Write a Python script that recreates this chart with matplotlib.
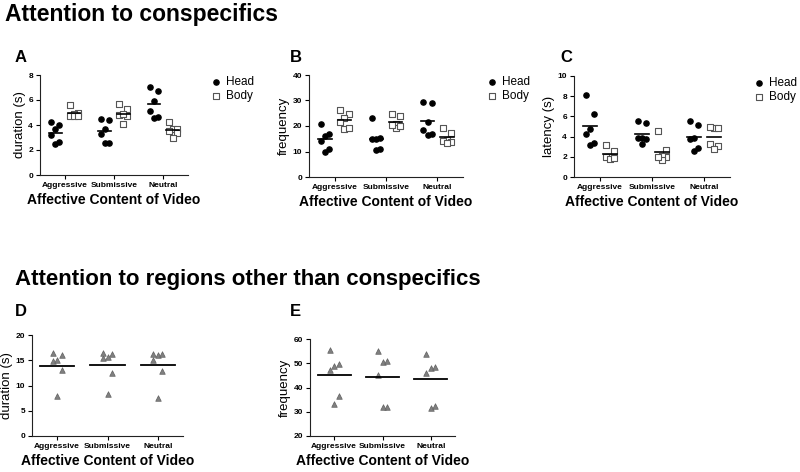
import matplotlib
matplotlib.use("Agg")
import matplotlib.pyplot as plt
import numpy as np

plt.rcParams['font.family'] = ['Liberation Sans', 'DejaVu Sans']

categories = ["Aggressive", "Submissive", "Neutral"]

# Panel A: duration (s)
A_head = [[4.03, 3.71, 4.24, 3.23, 2.52, 2.65],
          [4.37, 4.45, 3.71, 3.31, 2.57, 2.57],
          [7.07, 6.70, 5.90, 5.09, 4.56, 4.64]]
A_body = [[5.62, 4.95, 4.85, 4.75, 4.70, 4.72],
          [5.30, 5.70, 4.69, 4.80, 4.05, 4.85],
          [4.24, 3.65, 3.65, 3.40, 3.00, 3.55]]
# Panel B: frequency
B_head = [[20.6, 16.1, 16.8, 14.2, 9.8, 10.9],
          [23.0, 14.8, 14.8, 15.1, 10.5, 10.8],
          [29.1, 29.5, 21.4, 18.4, 16.7, 16.5]]
B_body = [[26.2, 24.7, 23.0, 21.4, 18.8, 19.4],
          [24.9, 23.9, 20.7, 19.4, 19.9, 20.5],
          [19.4, 17.4, 14.7, 13.8, 14.2, 13.5]]
# Panel C: latency (s)
C_head = [[8.15, 6.27, 4.79, 4.29, 3.14, 3.40],
          [5.35, 5.54, 3.90, 3.75, 3.85, 3.30],
          [5.12, 5.54, 3.90, 3.73, 2.54, 2.87]]
C_body = [[3.20, 2.54, 1.98, 1.98, 1.80, 1.90],
          [4.52, 2.64, 1.98, 2.05, 1.65, 2.00],
          [4.88, 5.00, 4.90, 3.30, 3.04, 2.80]]
# Panel D: duration (s), other regions
D_vals = [[16.4, 16.0, 14.85, 15.0, 13.1, 8.0],
          [16.2, 15.4, 15.7, 16.4, 12.5, 8.4],
          [16.2, 15.0, 16.0, 16.2, 12.8, 7.6]]
# Panel E: frequency, other regions
E_vals = [[55.4, 49.6, 48.8, 47.1, 36.4, 33.1],
          [55.0, 50.6, 51.0, 45.2, 32.1, 32.1],
          [53.7, 47.9, 48.6, 46.1, 31.4, 32.4]]

W, H = 800, 472
fig = plt.figure(figsize=(8, 4.72), dpi=100)

def add_axes(left, top, right, bottom):
    return fig.add_axes([left / W, 1 - bottom / H, (right - left) / W, (bottom - top) / H])

def jitter(vals, spread):
    # simple column-scatter layout: spread points that are close in value
    n = len(vals)
    order = np.argsort(vals)[::-1]
    offs = np.zeros(n)
    pattern = [-1, 1, 0, -1, 1, 0]
    for k, i in enumerate(order):
        offs[i] = pattern[k % len(pattern)] * spread
    return offs

def style_axes(ax, ylim, yticks, ylabel):
    ax.set_ylim(*ylim)
    ax.set_yticks(yticks)
    ax.set_xlim(-0.5, 2.5)
    ax.set_xticks(range(3))
    ax.set_xticklabels(categories)
    for s in ["top", "right"]:
        ax.spines[s].set_visible(False)
    for s in ["left", "bottom"]:
        ax.spines[s].set_linewidth(0.8)
        ax.spines[s].set_color("#222222")
    ax.tick_params(axis="both", labelsize=6, length=3, width=0.8, pad=2)
    for lab in ax.get_xticklabels() + ax.get_yticklabels():
        lab.set_fontweight("bold")
    ax.set_ylabel(ylabel, fontsize=9.5, labelpad=2)
    ax.set_xlabel("Affective Content of Video", fontsize=10, fontweight="bold", labelpad=3)

def two_group(ax, head, body, off=0.19, spread=0.08, mw=0.13):
    for i in range(3):
        h = np.array(head[i]); b = np.array(body[i])
        ax.scatter(i - off + jitter(h, spread), h, s=14, marker="o", color="black",
                   zorder=3, label="Head" if i == 0 else None)
        ax.scatter(i + off + jitter(b, spread), b, s=16, marker="s", facecolor="white",
                   edgecolor="#555555", linewidths=0.8, zorder=3,
                   label="Body" if i == 0 else None)
        ax.plot([i - off - mw, i - off + mw], [h.mean()] * 2, color="black", lw=1.2, zorder=4)
        ax.plot([i + off - mw, i + off + mw], [b.mean()] * 2, color="black", lw=1.2, zorder=4)
    ax.legend(loc="upper left", bbox_to_anchor=(1.12, 1.04), frameon=False,
              fontsize=8.5, handletextpad=0.3, labelspacing=0.2, handlelength=1.0,
              borderaxespad=0)

def one_group(ax, vals, spread=0.09, mw=0.34):
    for i in range(3):
        v = np.array(vals[i])
        ax.scatter(i + jitter(v, spread), v, s=16, marker="^", color="#808080",
                   edgecolor="#606060", linewidths=0.5, zorder=3)
        ax.plot([i - mw, i + mw], [v.mean()] * 2, color="black", lw=1.3, zorder=4)

axA = add_axes(40, 75, 188, 175)
two_group(axA, A_head, A_body)
style_axes(axA, (0, 8), [0, 2, 4, 6, 8], "duration (s)")

axB = add_axes(309, 75, 463, 177)
two_group(axB, B_head, B_body)
style_axes(axB, (0, 40), [0, 10, 20, 30, 40], "frequency")

axC = add_axes(574, 76, 730, 177)
two_group(axC, C_head, C_body)
style_axes(axC, (0, 10), [0, 2, 4, 6, 8, 10], "latency (s)")

axD = add_axes(32, 335, 183, 436)
one_group(axD, D_vals)
style_axes(axD, (0, 20), [0, 5, 10, 15, 20], "duration (s)")

axE = add_axes(310, 339, 455, 436)
one_group(axE, E_vals)
style_axes(axE, (20, 60), [20, 30, 40, 50, 60], "frequency")

fig.text(5 / W, 1 - 14 / H, "Attention to conspecifics", fontsize=16.5, fontweight="bold",
         va="center", ha="left")
fig.text(15 / W, 1 - 279 / H, "Attention to regions other than conspecifics", fontsize=16,
         fontweight="bold", va="center", ha="left")
for letter, x, y in [("A", 15, 57), ("B", 290, 57), ("C", 560, 57), ("D", 15, 312), ("E", 290, 312)]:
    fig.text(x / W, 1 - y / H, letter, fontsize=12, fontweight="bold", va="center", ha="left")

fig.savefig("out.png", dpi=100)
